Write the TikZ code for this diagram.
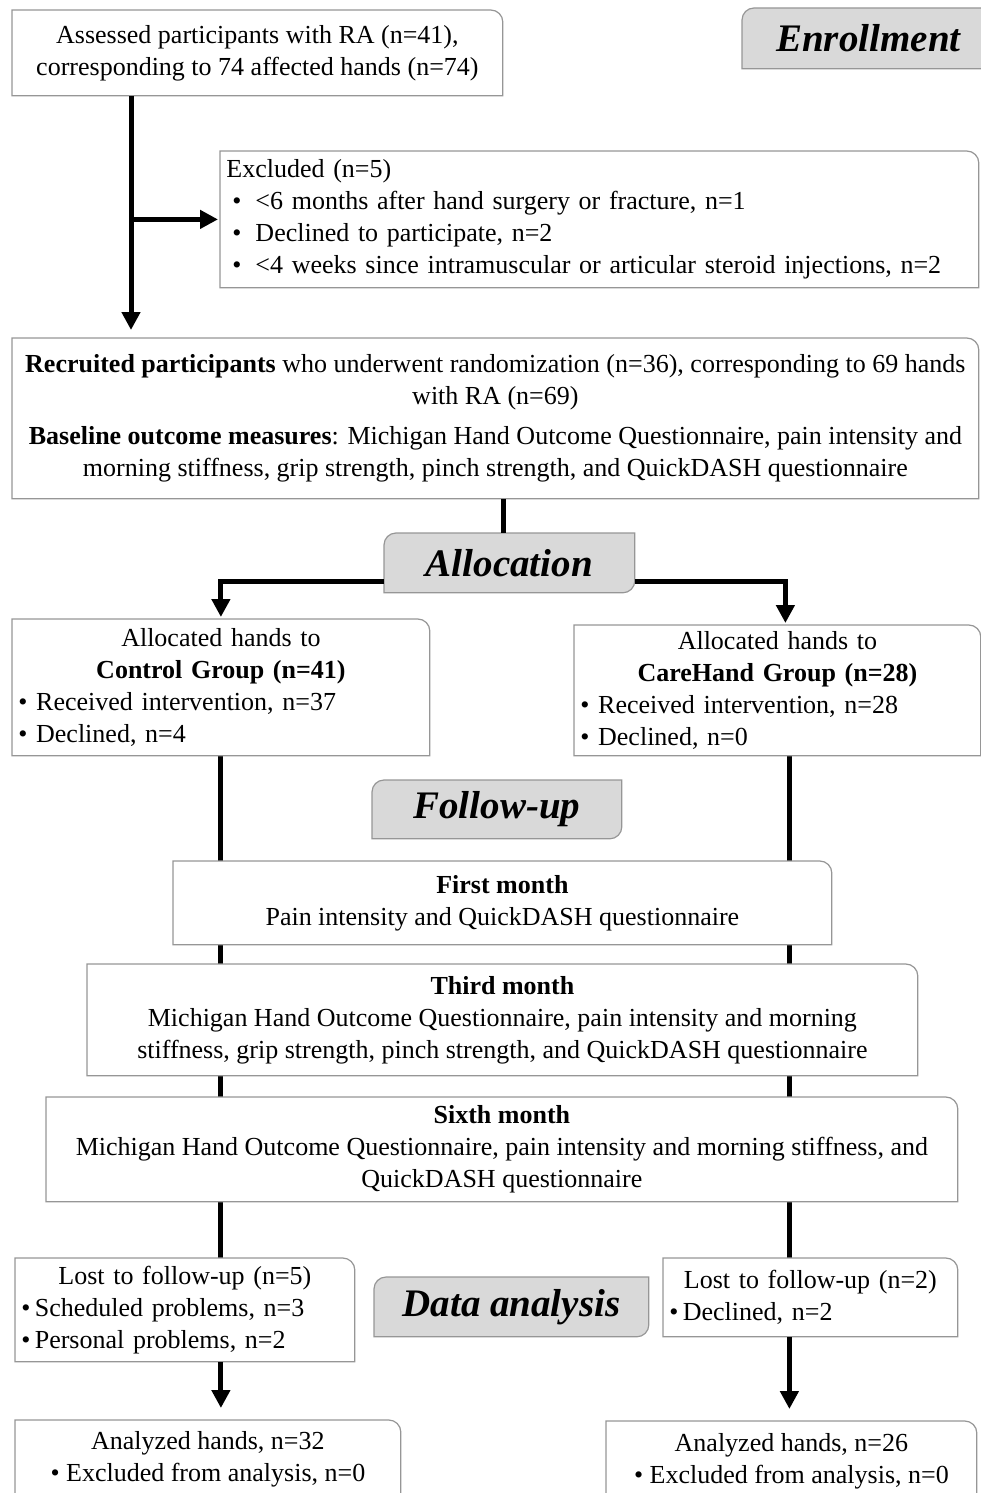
\documentclass[tikz,border=0pt]{standalone}
\usepackage{fontspec}
\setmainfont{Liberation Serif}
\definecolor{lblgray}{RGB}{217,217,217}
\definecolor{edgegray}{RGB}{150,150,150}
\usetikzlibrary{arrows.meta,positioning,calc}
\pgfdeclarelayer{lines}
\pgfdeclarelayer{boxes}
\pgfsetlayers{lines,boxes,main}
\newcommand{\ctr}[1]{\makebox[\hsize]{#1}}
\newcommand{\boxTR}[1]{\path[outline] (#1.south west) -- (#1.north west) -- ([xshift=-6pt]#1.north east) arc[start angle=90,end angle=0,radius=6pt] -- (#1.south east) -- cycle;}
\newcommand{\lblTLBR}[1]{\path[lbloutline] ([yshift=-6pt]#1.north west) arc[start angle=180,end angle=90,radius=6pt] -- (#1.north east) -- ([yshift=6pt]#1.south east) arc[start angle=0,end angle=-90,radius=6pt] -- (#1.south west) -- cycle;}

\begin{document}
\begin{tikzpicture}[x=0.5pt, y=-0.5pt,
    txbox/.style={anchor=north west, inner sep=3pt, font=\fontsize{13}{16}\selectfont},
    lblbox/.style={anchor=north west, inner sep=0pt, font=\fontsize{19.5}{22}\selectfont\bfseries\itshape},
    flow/.style={line width=2.5pt, -{Triangle[length=9pt,width=9pt]}},
    trunk/.style={line width=2.5pt},
    outline/.style={draw=edgegray, line width=0.6pt, fill=white},
    lbloutline/.style={draw=edgegray, line width=0.6pt, fill=lblgray}
    ]
    \useasboundingbox (0,0) rectangle (980,1493);

    % enrollment
    \node (assess) [txbox, align=center, minimum width=245pt, minimum height=42.5pt] at (12,10)
        {Assessed participants with RA (n=41),\\ corresponding to 74 affected hands (n=74)};
    \node (enroll) [lblbox, minimum width=126pt, minimum height=30pt] at (742,8) {Enrollment};
    \node (excl) [txbox, align=left, text width=373pt, minimum height=68pt] at (220,151)
        {Excluded (n=5)\\
         \hspace{3pt}\textbullet\hspace{7pt}<6 months after hand surgery or fracture, n=1\\
         \hspace{3pt}\textbullet\hspace{7pt}Declined to participate, n=2\\
         \hspace{3pt}\textbullet\hspace{7pt}<4 weeks since intramuscular or articular steroid injections, n=2};
    \node (recruit) [txbox, align=center, minimum width=483pt, minimum height=80pt] at (12,338)
        {\textbf{Recruited participants} who underwent randomization (n=36), corresponding to 69 hands\\
         with RA (n=69)\\[4pt]
         \textbf{Baseline outcome measures}: Michigan Hand Outcome Questionnaire, pain intensity and\\
         morning stiffness, grip strength, pinch strength, and QuickDASH questionnaire};

    % allocation
    \node (alloc) [lblbox, minimum width=125pt, minimum height=29.5pt] at (384,533) {Allocation};
    \node (ctrl) [txbox, align=left, text width=202.5pt, minimum height=68pt] at (12,619)
        {\ctr{Allocated hands to}\\
         \ctr{\textbf{Control Group (n=41)}}\\
         \textbullet\ Received intervention, n=37\\
         \textbullet\ Declined, n=4};
    \node (care) [txbox, align=left, text width=197pt, minimum height=65pt] at (574,625)
        {\ctr{Allocated hands to}\\
         \ctr{\textbf{CareHand Group (n=28)}}\\
         \textbullet\ Received intervention, n=28\\
         \textbullet\ Declined, n=0};

    % follow-up
    \node (follow) [lblbox, minimum width=124.5pt, minimum height=29pt] at (372,780) {Follow-up};
    \node (first) [txbox, align=center, minimum width=329pt, minimum height=41.5pt] at (173,861)
        {\textbf{First month}\\ Pain intensity and QuickDASH questionnaire};
    \node (third) [txbox, align=center, minimum width=415pt, minimum height=55.5pt] at (87,964)
        {\textbf{Third month}\\
         Michigan Hand Outcome Questionnaire, pain intensity and morning\\
         stiffness, grip strength, pinch strength, and QuickDASH questionnaire};
    \node (sixth) [txbox, align=center, minimum width=455.5pt, minimum height=52pt] at (46,1097)
        {\textbf{Sixth month}\\
         Michigan Hand Outcome Questionnaire, pain intensity and morning stiffness, and\\
         QuickDASH questionnaire};

    % data analysis
    \node (data) [lblbox, minimum width=137pt, minimum height=29.5pt] at (374,1277) {Data analysis};
    \node (lostL) [txbox, align=left, text width=163.5pt, minimum height=51.5pt] at (15,1258)
        {\ctr{Lost to follow-up (n=5)}\\
         \textbullet\,Scheduled problems, n=3\\
         \textbullet\,Personal problems, n=2};
    \node (lostR) [txbox, align=left, text width=141pt, minimum height=39pt] at (663,1258)
        {\ctr{Lost to follow-up (n=2)}\\
         \textbullet\,Declined, n=2};
    \node (anaL) [txbox, align=center, minimum width=192.5pt, minimum height=39pt] at (15,1420)
        {Analyzed hands, n=32\\ \textbullet\ Excluded from analysis, n=0};
    \node (anaR) [txbox, align=center, minimum width=185pt, minimum height=40pt] at (606,1421)
        {Analyzed hands, n=26\\ \textbullet\ Excluded from analysis, n=0};

    % outlines
    \begin{pgfonlayer}{boxes}
        \boxTR{assess} \boxTR{excl} \boxTR{recruit} \boxTR{ctrl} \boxTR{care}
        \boxTR{first} \boxTR{third} \boxTR{sixth} \boxTR{lostL} \boxTR{lostR}
        \boxTR{anaL} \boxTR{anaR}
        \lblTLBR{enroll} \lblTLBR{alloc} \lblTLBR{follow} \lblTLBR{data}
    \end{pgfonlayer}

    % the edges
    \coordinate (tk) at (131,0);
    \coordinate (rt) at ([xshift=6pt]care.south);
    \draw[flow] (assess.south -| tk) -- ([yshift=4pt]recruit.north -| tk);
    \draw[flow] (excl.west -| tk) -- ([xshift=-1pt]excl.west);
    \draw[trunk] ([xshift=-3pt]alloc.north |- recruit.south) -- ([xshift=-3pt]alloc.north);
    \draw[flow] ([yshift=-9.25pt]alloc.west) -| ([yshift=1pt]ctrl.north);
    \draw[flow] ([yshift=-9.25pt]alloc.east) -| ([xshift=4pt,yshift=1pt]care.north);
    \begin{pgfonlayer}{lines}
        \draw[trunk] (ctrl.south) -- (ctrl.south |- lostL.north);
        \draw[trunk] (rt) -- (rt |- lostR.north);
    \end{pgfonlayer}
    \draw[flow] (lostL.south -| ctrl.south) -- ([yshift=6pt]anaL.north -| ctrl.south);
    \draw[flow] (lostR.south -| rt) -- ([yshift=6pt]anaR.north -| rt);
\end{tikzpicture}
\end{document}
